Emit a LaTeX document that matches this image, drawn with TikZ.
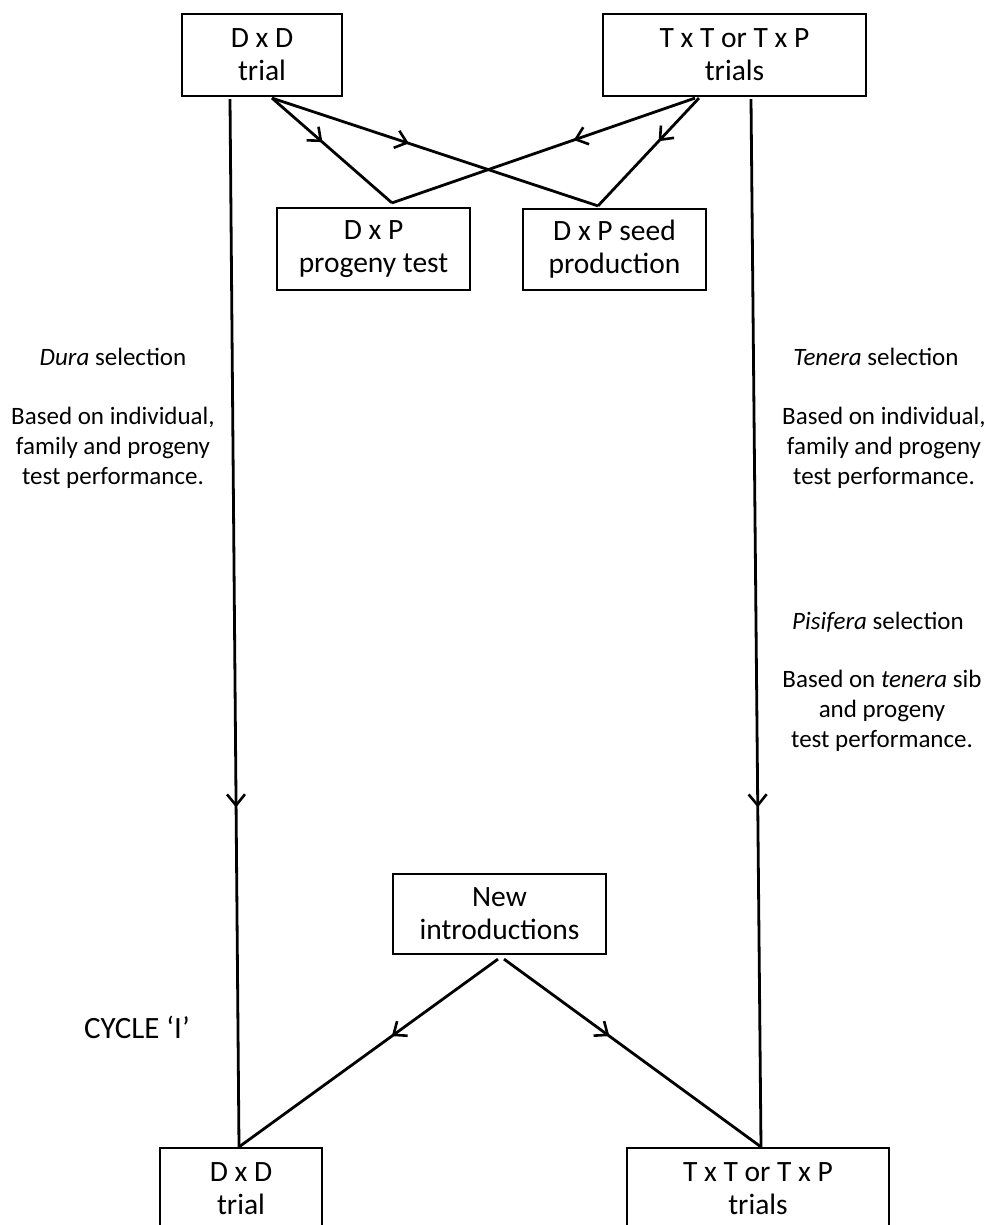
\documentclass[tikz,border=0pt]{standalone}
\usepackage{fontspec}
\setmainfont{Carlito}
\usetikzlibrary{arrows.meta,decorations.markings}
\begin{document}
\begin{tikzpicture}[x=1pt,y=-1pt,
  box/.style={draw,line width=2.2pt,inner sep=0pt,align=center,font=\fontsize{29.5}{33}\selectfont},
  lbl/.style={align=center,inner sep=0pt,font=\fontsize{25}{30}\selectfont},
  conn/.style={line width=2.8pt},
  midarrow/.style={postaction={decorate},decoration={markings,mark=at position #1 with {\arrow[line width=2.6pt]{Straight Barb[length=11pt,width=18pt]}}}},
]
\useasboundingbox (0,0) rectangle (990,1225);

% boxes
\node[box,minimum width=160pt,minimum height=82pt] (dxdT) at (262,55) {D x D\\trial};
\node[box,minimum width=263pt,minimum height=82pt] (txtT) at (734.5,55) {T x T or T x P\\trials};
\node[box,minimum width=193pt,minimum height=82pt] (dxp) at (373.5,249) {D x P\\progeny test};
\node[box,minimum width=183pt,minimum height=81pt] (dxs) at (614.5,249.5) {D x P seed\\production};
\node[box,minimum width=213pt,minimum height=80pt] (newI) at (499.5,914) {New\\introductions};
\node[box,minimum width=162pt,minimum height=82pt] (dxdB) at (241,1189) {D x D\\trial};
\node[box,minimum width=262pt,minimum height=82pt] (txtB) at (758,1189) {T x T or T x P\\trials};

% connectors, top crossing
\draw[conn,midarrow=0.42] ([xshift=10pt,yshift=-1pt]dxdT.south) -- ([xshift=18.5pt,yshift=4pt]dxp.north);
\draw[conn,midarrow=0.42] ([xshift=10pt,yshift=-1pt]dxdT.south) -- ([xshift=-16.5pt,yshift=2pt]dxs.north);
\draw[conn,midarrow=0.4] ([xshift=-39.5pt,yshift=-1pt]txtT.south) -- ([xshift=18.5pt,yshift=4pt]dxp.north);
\draw[conn,midarrow=0.4] ([xshift=-35.5pt,yshift=-1pt]txtT.south) -- ([xshift=-16.5pt,yshift=2pt]dxs.north);

% long verticals
\draw[conn,midarrow=0.676] ([xshift=-32pt,yshift=-2pt]dxdT.south) -- ([xshift=-2pt]dxdB.north);
\draw[conn,midarrow=0.676] ([xshift=16.5pt,yshift=-2pt]txtT.south) -- ([xshift=3pt]txtB.north);

% new introductions
\draw[conn,midarrow=0.41] ([xshift=-1.5pt,yshift=-4pt]newI.south) -- ([xshift=-2pt]dxdB.north);
\draw[conn,midarrow=0.41] ([xshift=4.5pt,yshift=-4pt]newI.south) -- ([xshift=3pt]txtB.north);

% labels
\node[lbl] (dura) at (113,357) {\textit{Dura} selection};
\node[lbl] (durab) at (113,448) {Based on individual,\\family and progeny\\test performance.};
\node[lbl] (ten) at (876,357) {\textit{Tenera} selection};
\node[lbl] (tenb) at (884,448) {Based on individual,\\family and progeny\\test performance.};
\node[lbl] (pis) at (878,622) {\textit{Pisifera} selection};
\node[lbl] (pisb) at (882,711) {Based on \textit{tenera} sib\\and progeny\\test performance.};
\node[lbl,font=\fontsize{31}{36}\selectfont] (cyc) at (137,1027) {CYCLE ‘I’};
\end{tikzpicture}
\end{document}
